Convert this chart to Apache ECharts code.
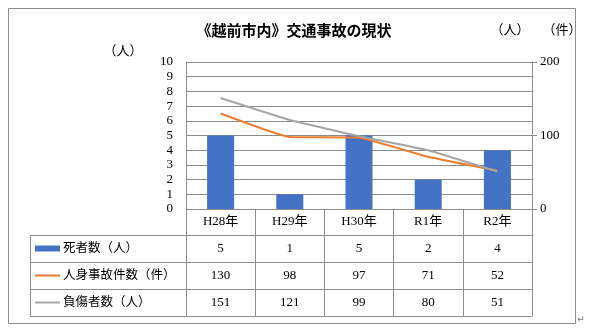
<!DOCTYPE html>
<html>
<head>
<meta charset="utf-8">
<style>
  html, body { margin: 0; padding: 0; background: #fff; }
  #chart { width: 589px; height: 335px; }
</style>
<script src="https://cdn.jsdelivr.net/npm/echarts@6/dist/echarts.min.js"></script>
</head>
<body>
<div id="chart"></div>
<script>
// Traffic accident statistics for Echizen city, fiscal years H28 to R2
const categories = ['H28年', 'H29年', 'H30年', 'R1年', 'R2年'];
const deaths = [5, 1, 5, 2, 4];           // 死者数（人）, left axis
const accidents = [130, 98, 97, 71, 52];  // 人身事故件数（件）, right axis
const injuries = [151, 121, 99, 80, 51];  // 負傷者数（人）, right axis
const seriesNames = ['死者数（人）', '人身事故件数（件）', '負傷者数（人）'];
const leftTicks = { min: 0, max: 10, interval: 1 };
const rightTicks = { min: 0, max: 200, interval: 100 };

const FONT = "'Liberation Serif', 'Noto Sans CJK JP', serif";
const LINE = '#8c8c8c';
const COLORS = ['#4472C4', '#ED7D31', '#A5A5A5'];
const seriesData = [deaths, accidents, injuries];

const chart = echarts.init(document.getElementById('chart'), null, { renderer: 'canvas' });

// Table geometry (rows under the category axis)
const tableLeft = 30, tableRight = 532, axisY = 209;
const headerH = 26, rowH = 27;

const graphics = [
  // outer frame
  { type: 'rect', shape: { x: 8.5, y: 8.5, width: 567, height: 315 },
    style: { fill: 'none', stroke: LINE, lineWidth: 1 } },
  // title
  { type: 'text', x: 294, y: 32, style: { text: '《越前市内》交通事故の現状', fontFamily: FONT,
    fontSize: 15, fontWeight: 'bold', fill: '#000', align: 'center', verticalAlign: 'middle' } },
  // axis unit labels
  { type: 'text', x: 123, y: 52, style: { text: '（人）', fontFamily: FONT, fontSize: 13, fill: '#000', align: 'center', verticalAlign: 'middle' } },
  { type: 'text', x: 510, y: 31, style: { text: '（人）', fontFamily: FONT, fontSize: 13, fill: '#000', align: 'center', verticalAlign: 'middle' } },
  { type: 'text', x: 562, y: 31, style: { text: '（件）', fontFamily: FONT, fontSize: 13, fill: '#000', align: 'center', verticalAlign: 'middle' } },
  // paragraph mark
  { type: 'text', x: 581, y: 320, style: { text: '↵', fontFamily: "'DejaVu Sans'", fontSize: 9, fill: '#777', align: 'center', verticalAlign: 'middle' } },
  // left border of the data rows
  { type: 'line', shape: { x1: tableLeft + 0.5, y1: axisY + headerH, x2: tableLeft + 0.5, y2: axisY + headerH + 3 * rowH },
    style: { stroke: LINE, lineWidth: 1 } }
];

// horizontal table rules
for (let i = 0; i <= 3; i++) {
  const y = axisY + headerH + i * rowH + 0.5;
  graphics.push({ type: 'line', shape: { x1: tableLeft, y1: y, x2: tableRight + 0.5, y2: y },
    style: { stroke: LINE, lineWidth: 1 } });
}

// row headers with legend keys
seriesNames.forEach((name, i) => {
  const cy = axisY + headerH + i * rowH + rowH / 2;
  if (i === 0) {
    graphics.push({ type: 'rect', shape: { x: 35, y: cy - 3, width: 25, height: 6 }, style: { fill: COLORS[i] } });
  } else {
    graphics.push({ type: 'line', shape: { x1: 35, y1: cy, x2: 60, y2: cy }, style: { stroke: COLORS[i], lineWidth: 2 } });
  }
  graphics.push({ type: 'text', x: 63, y: cy, style: { text: name, fontFamily: FONT, fontSize: 12.5,
    fill: '#000', align: 'left', verticalAlign: 'middle' } });
});

const option = {
  animation: false,
  backgroundColor: '#fff',
  grid: { left: 186, right: 57, top: 62, bottom: 126, containLabel: false },
  xAxis: {
    type: 'category',
    data: categories,
    boundaryGap: true,
    axisLine: { show: true, lineStyle: { color: LINE, width: 1 } },
    axisTick: { show: true, length: headerH + 3 * rowH, lineStyle: { color: LINE, width: 1 } },
    axisLabel: {
      margin: 0,
      fontFamily: FONT,
      color: '#000',
      formatter: (value, idx) =>
        '{h|' + value + '}\n' + seriesData.map(d => '{v|' + d[idx] + '}').join('\n'),
      rich: {
        h: { fontFamily: FONT, fontSize: 13, lineHeight: headerH, color: '#000' },
        v: { fontFamily: FONT, fontSize: 13, lineHeight: rowH, color: '#000' }
      }
    }
  },
  yAxis: [
    {
      type: 'value', min: leftTicks.min, max: leftTicks.max, interval: leftTicks.interval,
      axisLine: { show: true, lineStyle: { color: LINE, width: 1 } },
      axisTick: { show: false },
      axisLabel: { margin: 13, fontFamily: FONT, fontSize: 13, color: '#000' },
      splitLine: { show: true, lineStyle: { color: LINE, width: 1 } }
    },
    {
      type: 'value', min: rightTicks.min, max: rightTicks.max, interval: rightTicks.interval,
      position: 'right',
      axisLine: { show: true, lineStyle: { color: LINE, width: 1 } },
      axisTick: { show: true, inside: false, length: 5, lineStyle: { color: LINE, width: 1 } },
      axisLabel: { margin: 8, fontFamily: FONT, fontSize: 13, color: '#000' },
      splitLine: { show: false }
    }
  ],
  series: [
    { name: seriesNames[0], type: 'bar', yAxisIndex: 0, data: deaths, barWidth: 27,
      itemStyle: { color: COLORS[0] } },
    { name: seriesNames[1], type: 'line', yAxisIndex: 1, data: accidents, smooth: 0.12,
      symbol: 'none', lineStyle: { color: COLORS[1], width: 2 }, itemStyle: { color: COLORS[1] } },
    { name: seriesNames[2], type: 'line', yAxisIndex: 1, data: injuries, smooth: 0.08,
      symbol: 'none', lineStyle: { color: COLORS[2], width: 2 }, itemStyle: { color: COLORS[2] } }
  ],
  graphic: graphics
};

chart.setOption(option);
</script>
</body>
</html>
